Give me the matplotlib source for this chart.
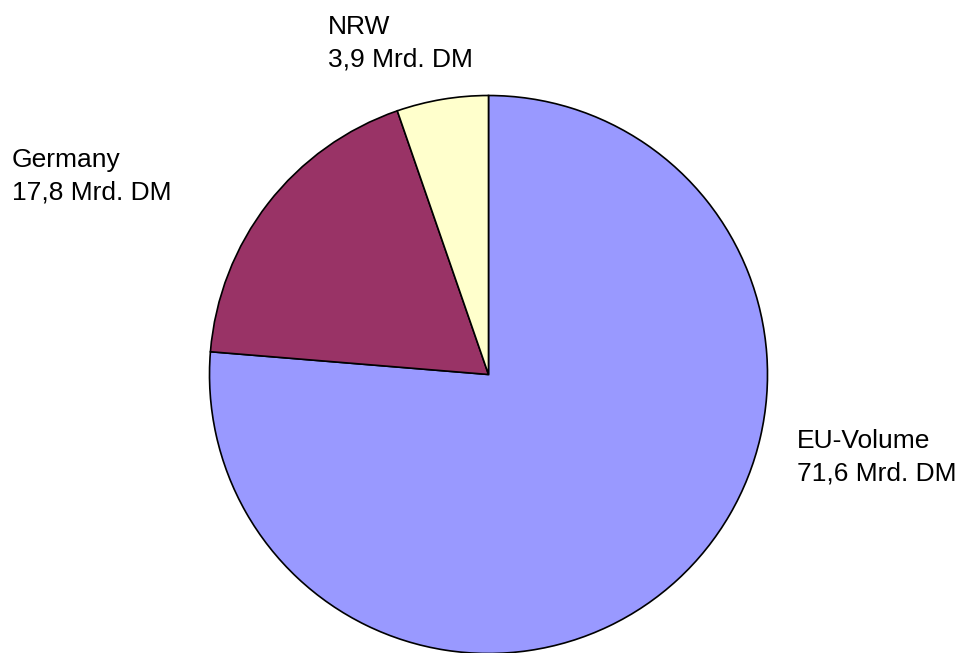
import matplotlib.pyplot as plt

plt.rcParams['font.family'] = ['Liberation Sans', 'DejaVu Sans']

regions = ["EU-Volume", "Germany", "NRW"]
volumes = ["71,6", "17,8", "3,9"]          # label text, Mrd. DM
shares = [76.3, 18.4, 5.3]                 # slice shares as drawn (%)
colors = ["#9999FF", "#993366", "#FFFFCC"]

CX, CY, R = 488.5, 374.5, 279.0            # pie centre / radius in pixels
W, H = 962, 653


def px(x, y):
    # image pixel -> data units (pie radius = 1)
    return (x - CX) / R, (CY - y) / R


fig = plt.figure(figsize=(W / 100, H / 100), dpi=100)
ax = fig.add_axes([0, 0, 1, 1])
ax.pie(shares, colors=colors, startangle=90, counterclock=False,
       wedgeprops=dict(edgecolor="black", linewidth=1.2))

label_px = [(797, 429), (12, 148), (328, 15)]
for name, val, (x, y) in zip(regions, volumes, label_px):
    tx, ty = px(x, y)
    ax.text(tx, ty, f"{name}\n{val} Mrd. DM", ha="left", va="top",
            fontsize=19, linespacing=1.45)

ax.set_xlim(-CX / R, (W - CX) / R)
ax.set_ylim(-(H - CY) / R, CY / R)
ax.set_aspect("auto")
ax.axis("off")

fig.savefig("out.png", dpi=100)
